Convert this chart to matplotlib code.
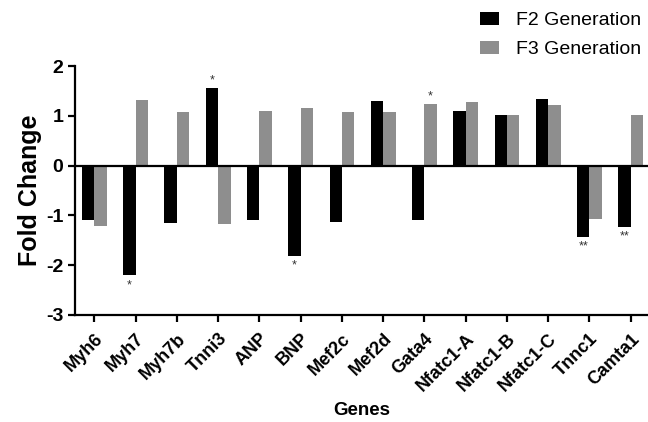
import numpy as np
import matplotlib
matplotlib.use('Agg')
import matplotlib.pyplot as plt

plt.rcParams['font.family'] = ['Liberation Sans', 'DejaVu Sans']

genes = ['Myh6', 'Myh7', 'Myh7b', 'Tnni3', 'ANP', 'BNP', 'Mef2c', 'Mef2d',
         'Gata4', 'Nfatc1-A', 'Nfatc1-B', 'Nfatc1-C', 'Tnnc1', 'Camta1']
f2 = [-1.10, -2.20, -1.15, 1.55, -1.09, -1.81, -1.14, 1.29,
      -1.10, 1.09, 1.01, 1.33, -1.43, -1.23]
f3 = [-1.22, 1.31, 1.07, -1.18, 1.09, 1.16, 1.07, 1.08,
      1.23, 1.27, 1.01, 1.21, -1.07, 1.02]
# significance marks: (gene index, series, label)
marks = [(1, 'F2', '*'), (3, 'F2', '*'), (5, 'F2', '*'), (8, 'F3', '*'),
         (12, 'F2', '**'), (13, 'F2', '**')]

fig = plt.figure(figsize=(6.48, 4.22), dpi=100)
ax = fig.add_axes([0.1157, 0.2536, 0.8843, 0.59])

x = np.arange(len(genes))
w = 0.3
ax.bar(x - w/2, f2, w, color='black', label='F2 Generation')
ax.bar(x + w/2, f3, w, color='#8e8e8e', label='F3 Generation')
ax.axhline(0, color='black', lw=1.6)

for i, s, lab in marks:
    v = f2[i] if s == 'F2' else f3[i]
    xp = x[i] - w/2 if s == 'F2' else x[i] + w/2
    if v < 0:
        ax.text(xp, v - 0.08, lab, ha='center', va='top', fontsize=9, color='#333333')
    else:
        ax.text(xp, v + 0.03, lab, ha='center', va='bottom', fontsize=9, color='#333333')

ax.set_xlim(-0.47, 13.42)
ax.set_ylim(-3, 2)
ax.set_yticks([-3, -2, -1, 0, 1, 2])
ax.set_yticklabels(['-3', '-2', '-1', '0', '1', '2'], fontsize=14, fontweight='bold')
ax.set_xticks(x)
ax.set_xticklabels(genes, rotation=45, ha='right', rotation_mode='anchor',
                   fontsize=13, fontweight='bold')
for sp in ['top', 'right']:
    ax.spines[sp].set_visible(False)
for sp in ['left', 'bottom']:
    ax.spines[sp].set_linewidth(1.6)
ax.tick_params(axis='both', width=1.6, length=5, direction='out')
ax.tick_params(axis='x', pad=6)
ax.set_ylabel('Fold Change', fontsize=18, fontweight='bold', labelpad=3)
ax.set_xlabel('Genes', fontsize=13.5, fontweight='bold', labelpad=5)

fig.legend(loc='upper left', bbox_to_anchor=(480/648, 1 - 12/422), frameon=False,
           fontsize=14, handlelength=1.0, handleheight=0.65, handletextpad=0.85,
           labelspacing=0.6, borderaxespad=0, borderpad=0)

fig.savefig('out.png', dpi=100)
